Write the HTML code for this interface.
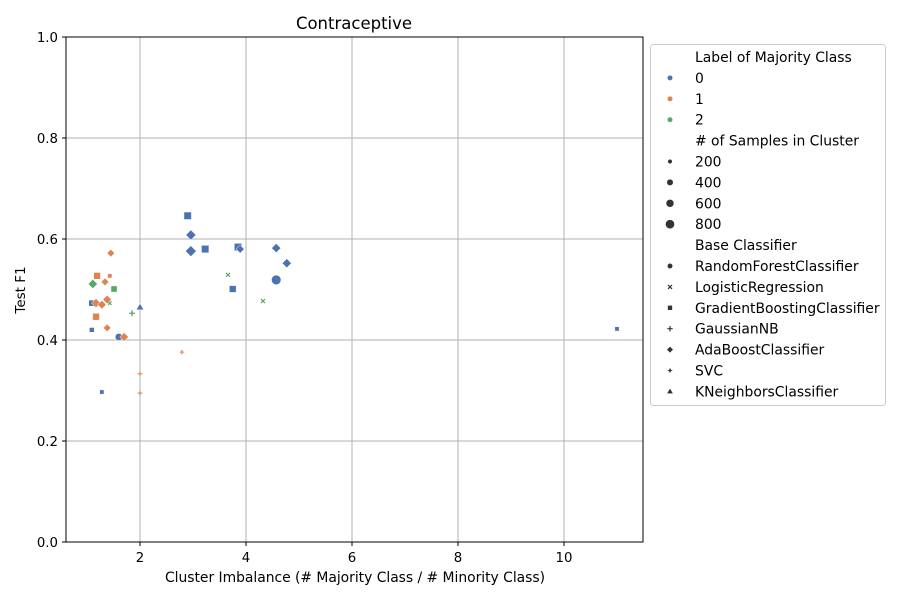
<!DOCTYPE html>
<html><head><meta charset="utf-8"><style>
body{margin:0;background:#fff;font-family:"Liberation Sans","DejaVu Sans",sans-serif;}
svg text{font-family:"DejaVu Sans","Liberation Sans",sans-serif;}
</style></head><body>
<svg id="chart" width="900" height="600" xmlns="http://www.w3.org/2000/svg">
<rect width="900" height="600" fill="#fff"/>
<g id="grid"></g>
<g id="marks"></g>
<rect x="66" y="37" width="577" height="505" fill="none" stroke="#000" stroke-width="1"/>
<g id="axes" font-size="13.3"></g>
<text x="354" y="29" text-anchor="middle" font-size="16.5">Contraceptive</text>
<text x="355" y="582" text-anchor="middle" font-size="13.9" textLength="380">Cluster Imbalance (# Majority Class / # Minority Class)</text>
<text x="25" y="290" text-anchor="middle" font-size="13.5" transform="rotate(-90 25 290)">Test F1</text>
<g id="legend" font-size="13.9"></g>
</svg>
<script>
const xs=[1.19,1.43,1.11,1.34,1.51,1.09,1.17,1.28,1.38,1.43,2.0,1.85,1.17,1.09,1.38,1.6,1.7,2.0,2.0,1.28,1.45,2.79,2.9,2.96,2.96,3.23,3.85,3.89,4.57,4.77,4.57,3.66,3.75,4.32,11.0];
const ys=[0.527,0.527,0.511,0.515,0.501,0.473,0.473,0.470,0.480,0.473,0.465,0.453,0.446,0.420,0.424,0.406,0.406,0.333,0.295,0.297,0.572,0.376,0.646,0.608,0.576,0.580,0.584,0.580,0.582,0.552,0.519,0.529,0.501,0.477,0.422];
const labels=[1,1,2,1,2,0,1,1,1,2,0,2,1,0,1,0,1,1,1,0,1,1,0,0,0,0,0,0,0,0,0,2,0,2,0];
const clfs=["gb","gb","ada","ada","gb","gb","ada","ada","ada","lr","knn","nb","gb","gb","ada","rf","ada","nb","nb","gb","ada","nb","gb","ada","ada","gb","gb","ada","ada","ada","rf","lr","gb","lr","gb"];
const samples=[500,200,500,350,400,400,500,450,450,200,350,300,500,250,350,450,450,200,200,200,350,200,600,600,700,600,600,400,500,500,800,250,500,250,200];
const xTicks=[2,4,6,8,10];
const yTicks=[0,0.2,0.4,0.6,0.8,1.0];
const colors=["#4c72b0","#dd8452","#55a868"];
const NS="http://www.w3.org/2000/svg";
const X=v=>34+53*v, Y=v=>542-505*v;
const R=n=>Math.sqrt(n)*0.17;
function mk(tag,attrs,parent){const e=document.createElementNS(NS,tag);for(const k in attrs)e.setAttribute(k,attrs[k]);parent.appendChild(e);return e;}
function marker(shape,cx,cy,r,col,parent){
  let e;
  if(shape==="rf") e=mk("circle",{cx,cy,r},parent);
  else if(shape==="gb") e=mk("rect",{x:cx-r*0.9,y:cy-r*0.9,width:r*1.8,height:r*1.8},parent);
  else if(shape==="ada"){const d=r*1.2;e=mk("polygon",{points:`${cx},${cy-d} ${cx+d},${cy} ${cx},${cy+d} ${cx-d},${cy}`},parent);}
  else if(shape==="knn"){const d=r*1.2;e=mk("polygon",{points:`${cx},${cy-d} ${cx+d},${cy+d*0.7} ${cx-d},${cy+d*0.7}`},parent);}
  else if(shape==="svc"){const d=r*1.3,s=r*0.35;e=mk("polygon",{points:`${cx},${cy-d} ${cx+s},${cy-s} ${cx+d},${cy} ${cx+s},${cy+s} ${cx},${cy+d} ${cx-s},${cy+s} ${cx-d},${cy} ${cx-s},${cy-s}`},parent);}
  else if(shape==="nb"){const d=r*1.0;e=mk("path",{d:`M${cx-d},${cy}H${cx+d}M${cx},${cy-d}V${cy+d}`,stroke:col,"stroke-width":Math.max(1.1,r*0.45),fill:"none"},parent);return e;}
  else if(shape==="lr"){const d=r*0.75;e=mk("path",{d:`M${cx-d},${cy-d}L${cx+d},${cy+d}M${cx-d},${cy+d}L${cx+d},${cy-d}`,stroke:col,"stroke-width":Math.max(1.1,r*0.45),fill:"none"},parent);return e;}
  e.setAttribute("fill",col);e.setAttribute("stroke","#fff");e.setAttribute("stroke-width","0.5");
  return e;
}
const grid=document.getElementById("grid"),axes=document.getElementById("axes"),marks=document.getElementById("marks"),lg=document.getElementById("legend");
xTicks.forEach(t=>{
  const l=mk("line",{x1:X(t),x2:X(t),y1:37,y2:542,stroke:"#b0b0b0","stroke-width":1},grid);
  
  
  mk("line",{x1:X(t),x2:X(t),y1:542,y2:546,stroke:"#000"},axes);
  const tx=mk("text",{x:X(t),y:562,"text-anchor":"middle"},axes);tx.textContent=t;
  
  
});
yTicks.forEach(t=>{
  const l=mk("line",{x1:66,x2:643,y1:Y(t),y2:Y(t),stroke:"#b0b0b0","stroke-width":1},grid);
  
  
  mk("line",{x1:62,x2:66,y1:Y(t),y2:Y(t),stroke:"#000"},axes);
  const tx=mk("text",{x:58,y:Y(t)+5,"text-anchor":"end"},axes);tx.textContent=t.toFixed(1);
  
  
});
xs.forEach((v,i)=>{
  const m=marker(clfs[i],X(v),Y(ys[i]),R(samples[i]),colors[labels[i]],marks);
  
  
});
const box=mk("rect",{x:650.5,y:44.5,width:235,height:361,rx:3,fill:"#fff",stroke:"#ccc"},lg);


const items=[["t","Label of Majority Class"],["c","0",0],["c","1",1],["c","2",2],["t","# of Samples in Cluster"],["s","200",200],["s","400",400],["s","600",600],["s","800",800],["t","Base Classifier"],
["m","RandomForestClassifier","rf"],["m","LogisticRegression","lr"],["m","GradientBoostingClassifier","gb"],["m","GaussianNB","nb"],["m","AdaBoostClassifier","ada"],["m","SVC","svc"],["m","KNeighborsClassifier","knn"]];
items.forEach((it,i)=>{
  const y=57+i*20.9;
  const tx=mk("text",{x:695,y:y+5},lg);tx.textContent=it[1];
  
  
  if(it[0]==="c") marker("rf",670,y,2.7,colors[it[2]],lg);
  if(it[0]==="s") marker("rf",670,y,R(it[2])*0.95,"#333",lg);
  if(it[0]==="m") marker(it[2],670,y,2.7,"#333",lg);
});
</script>
</body></html>
